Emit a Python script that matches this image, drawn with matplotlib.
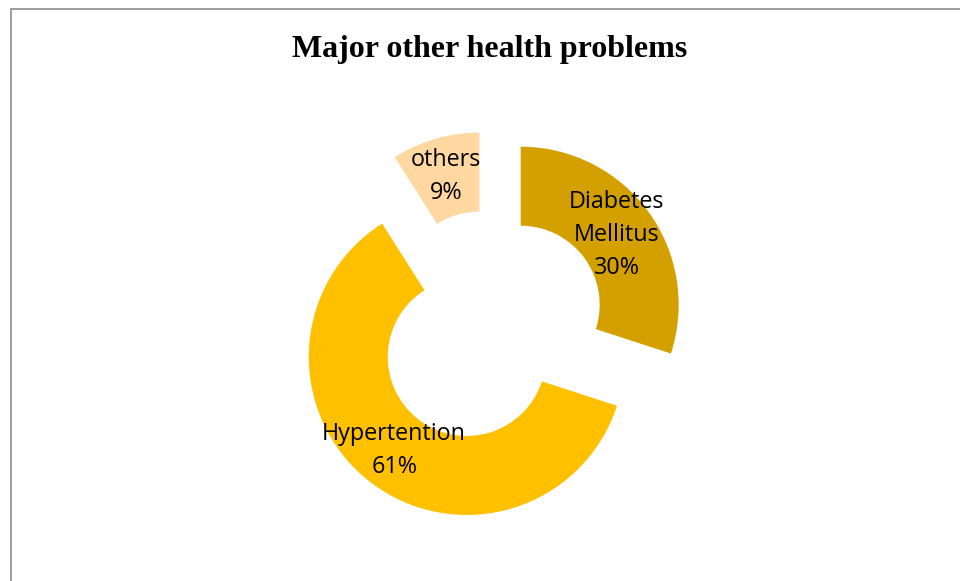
import matplotlib.pyplot as plt
from matplotlib.patches import Rectangle

categories = ["Diabetes\nMellitus", "Hypertention", "others"]
shares = [30, 61, 9]
colors = ["#D4A000", "#FFC000", "#FFD7A0"]

fig = plt.figure(figsize=(9.6, 5.81), dpi=100)
W, H = 960, 581
R = 158.0          # outer radius in px
cx, cy = 490, 327  # pie centre in px (from top)

ax = fig.add_axes([0, 0, 1, 1])
labels = [f"{c}\n{v}%" for c, v in zip(categories, shares)]
ax.pie(
    shares,
    labels=labels,
    colors=colors,
    startangle=90,
    counterclock=False,
    explode=[0.24, 0.24, 0.24],
    labeldistance=0.75,
    wedgeprops=dict(width=0.5, linewidth=0),
    textprops=dict(ha="center", va="center", family="Open Sans",
                   fontsize=16.8, color="black", linespacing=1.5),
)
ax.set_xlim(-cx / R, (W - cx) / R)
ax.set_ylim(-(H - cy) / R, cy / R)
ax.set_aspect("auto")
ax.axis("off")

fig.text(cx / W, 1 - 49 / H, "Major other health problems",
         ha="center", va="center", family="Liberation Serif",
         fontweight="bold", fontsize=23)

# chart border (only left and top visible in the crop)
fig.add_artist(Rectangle((10.5 / W, -0.1), 1.0, (H - 8.5) / H + 0.1,
                         transform=fig.transFigure, fill=False,
                         edgecolor="#8c8c8c", linewidth=1.2))

fig.savefig("out.png", dpi=100)
